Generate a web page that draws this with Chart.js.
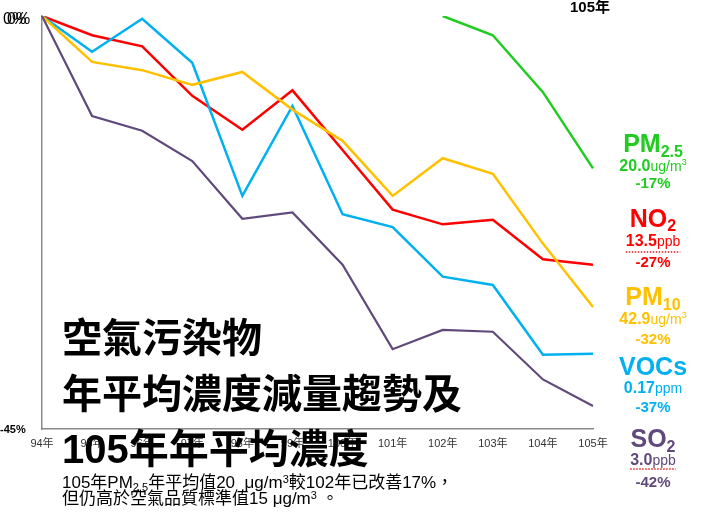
<!DOCTYPE html>
<html>
<head>
<meta charset="utf-8">
<script src="https://cdn.jsdelivr.net/npm/chart.js@4"></script>
<style>
  html, body { margin: 0; padding: 0; background: #ffffff; }
  #wrap { width: 710px; height: 515px; }
</style>
</head>
<body>
<div id="wrap"><canvas id="chart" width="710" height="515"></canvas></div>
<script>
// years (x axis)
const years = ["94年", "95年", "96年", "97年", "98年", "99年", "100年", "101年", "102年", "103年", "104年", "105年"];
// change vs base year, %
const no2 = [0, -2.1, -3.3, -8.7, -12.4, -8.1, -14.6, -21.1, -22.7, -22.2, -26.5, -27.1];
const vocs = [0, -3.9, -0.3, -5.1, -19.6, -9.8, -21.6, -23.0, -28.4, -29.3, -36.9, -36.8];
const pm10 = [0, -5.0, -5.9, -7.5, -6.1, -10.2, -13.6, -19.6, -15.5, -17.2, -24.8, -31.7];
const so2 = [0, -10.9, -12.5, -15.8, -22.1, -21.4, -27.1, -36.3, -34.2, -34.4, -39.6, -42.5];
const pm25 = [null, null, null, null, null, null, null, null, 0, -2.1, -8.3, -16.6];
// y tick labels
const yTop = 0;
const yBottom = -45;

const CJK = '"Liberation Sans", "Noto Sans CJK TC", sans-serif';
const GREEN = "#1fcc1f", RED = "#ff0000", YELLOW = "#ffc000", BLUE = "#00b0f0", PURPLE = "#604a7b";

// draw text made of several runs (subscripts etc.), centred on cx
function drawRuns(ctx, runs, cx, y, color) {
  let w = 0;
  for (const r of runs) { ctx.font = r.font; w += ctx.measureText(r.t).width; }
  let x = cx - w / 2;
  ctx.fillStyle = color;
  ctx.textAlign = "left";
  ctx.textBaseline = "alphabetic";
  for (const r of runs) {
    ctx.font = r.font;
    ctx.fillText(r.t, x, y + (r.dy || 0));
    x += ctx.measureText(r.t).width;
  }
  return { x0: cx - w / 2, x1: cx + w / 2 };
}
function drawLeft(ctx, runs, x, y, color) {
  ctx.fillStyle = color;
  ctx.textAlign = "left";
  ctx.textBaseline = "alphabetic";
  for (const r of runs) {
    ctx.font = r.font;
    ctx.fillText(r.t, x, y + (r.dy || 0));
    x += ctx.measureText(r.t).width;
  }
}
function dotted(ctx, x0, x1, y) {
  ctx.save();
  ctx.strokeStyle = "#e02020";
  ctx.lineWidth = 1.5;
  ctx.setLineDash([1.5, 1.5]);
  ctx.beginPath();
  ctx.moveTo(x0, y);
  ctx.lineTo(x1, y);
  ctx.stroke();
  ctx.restore();
}

const overlay = {
  id: "overlay",
  afterDraw: (chart) => {
    const { ctx } = chart;
    const y = chart.scales.y;
    ctx.save();
    // y labels
    ctx.fillStyle = "#000";
    ctx.textBaseline = "middle";
    ctx.textAlign = "left";
    ctx.font = "16px " + CJK;
    ctx.fillText(yTop + "%", 3, y.getPixelForValue(yTop) + 4);
    ctx.fillText(yTop + "%", 7, y.getPixelForValue(yTop) + 4);
    ctx.font = "bold 11px " + CJK;
    ctx.fillText(yBottom + "%", 0, y.getPixelForValue(yBottom) + 1);

    // top right
    ctx.textBaseline = "alphabetic";
    ctx.font = "bold 15px " + CJK;
    ctx.fillText("105年", 570, 12);

    // big title
    ctx.fillStyle = "#000";
    ctx.font = "bold 40px " + CJK;
    ctx.fillText("空氣污染物", 62, 352);
    ctx.fillText("年平均濃度減量趨勢及", 62, 408);
    ctx.fillText("105年年平均濃度", 62, 463);

    // note
    const f = "17px " + CJK, fs = "11px " + CJK;
    drawLeft(ctx, [
      { t: "105年PM", font: f }, { t: "2.5", font: fs, dy: 3 },
      { t: "年平均值20  μg/m", font: f }, { t: "3", font: fs, dy: -5 },
      { t: "較102年已改善17%，", font: f }
    ], 62, 488, "#000");
    drawLeft(ctx, [
      { t: "但仍高於空氣品質標準值15 μg/m", font: f }, { t: "3", font: fs, dy: -5 },
      { t: " 。", font: f }
    ], 62, 504, "#000");

    // right-hand labels
    const cx = 653;
    const big = "bold 25px " + CJK, sub = "bold 16px " + CJK;
    const val = "bold 16px " + CJK, unit = "14px " + CJK, sup = "9px " + CJK;
    const pct = "bold 15px " + CJK;

    drawRuns(ctx, [{ t: "PM", font: big }, { t: "2.5", font: sub, dy: 5 }], cx, 152, GREEN);
    drawRuns(ctx, [{ t: "20.0", font: val }, { t: "ug/m", font: unit }, { t: "3", font: sup, dy: -6 }], cx, 171, GREEN);
    drawRuns(ctx, [{ t: "-17%", font: pct }], cx, 188, GREEN);

    drawRuns(ctx, [{ t: "NO", font: big }, { t: "2", font: sub, dy: 4 }], cx, 227, RED);
    let e = drawRuns(ctx, [{ t: "13.5", font: val }, { t: "ppb", font: unit }], cx, 246, RED);
    dotted(ctx, e.x0, e.x1, 252);
    drawRuns(ctx, [{ t: "-27%", font: pct }], cx, 267, RED);

    drawRuns(ctx, [{ t: "PM", font: big }, { t: "10", font: sub, dy: 5 }], cx, 305, YELLOW);
    drawRuns(ctx, [{ t: "42.9", font: val }, { t: "ug/m", font: unit }, { t: "3", font: sup, dy: -6 }], cx, 324, YELLOW);
    drawRuns(ctx, [{ t: "-32%", font: pct }], cx, 344, YELLOW);

    drawRuns(ctx, [{ t: "VOCs", font: big }], cx, 375, BLUE);
    drawRuns(ctx, [{ t: "0.17", font: val }, { t: "ppm", font: unit }], cx, 393, BLUE);
    drawRuns(ctx, [{ t: "-37%", font: pct }], cx, 412, BLUE);

    drawRuns(ctx, [{ t: "SO", font: big }, { t: "2", font: sub, dy: 5 }], cx, 447, PURPLE);
    e = drawRuns(ctx, [{ t: "3.0", font: val }, { t: "ppb", font: unit }], cx, 465, PURPLE);
    dotted(ctx, e.x0, e.x1, 469);
    drawRuns(ctx, [{ t: "-42%", font: pct }], cx, 487, PURPLE);
    ctx.restore();
  },
};

new Chart(document.getElementById("chart"), {
  type: "line",
  data: {
    labels: years,
    datasets: [
      { data: so2, borderColor: PURPLE, borderWidth: 2.2 },
      { data: pm10, borderColor: YELLOW, borderWidth: 2.5 },
      { data: vocs, borderColor: BLUE, borderWidth: 2.5 },
      { data: no2, borderColor: RED, borderWidth: 2.5 },
      { data: pm25, borderColor: GREEN, borderWidth: 2.5 },
    ],
  },
  plugins: [overlay],
  options: {
    responsive: false,
    animation: false,
    layout: { padding: { top: 16, right: 117, left: 0, bottom: 0 } },
    elements: {
      point: { radius: 0 },
      line: { tension: 0, fill: false },
    },
    scales: {
      x: {
        offset: false,
        grid: { display: false, drawTicks: false },
        border: { display: true, color: "#8a8a8a", width: 1.5 },
        ticks: {
          color: "#333",
          padding: 8,
          maxRotation: 0,
          autoSkip: false,
          font: { size: 11, family: CJK },
        },
        afterFit: (scale) => { scale.height = 86; },
      },
      y: {
        min: yBottom,
        max: yTop,
        grid: { display: false, drawTicks: false },
        border: { display: true, color: "#8a8a8a", width: 1.5 },
        ticks: { display: false },
        afterFit: (scale) => { scale.width = 42; },
      },
    },
    plugins: {
      legend: { display: false },
      tooltip: { enabled: false },
    },
  },
});
</script>
</body>
</html>
